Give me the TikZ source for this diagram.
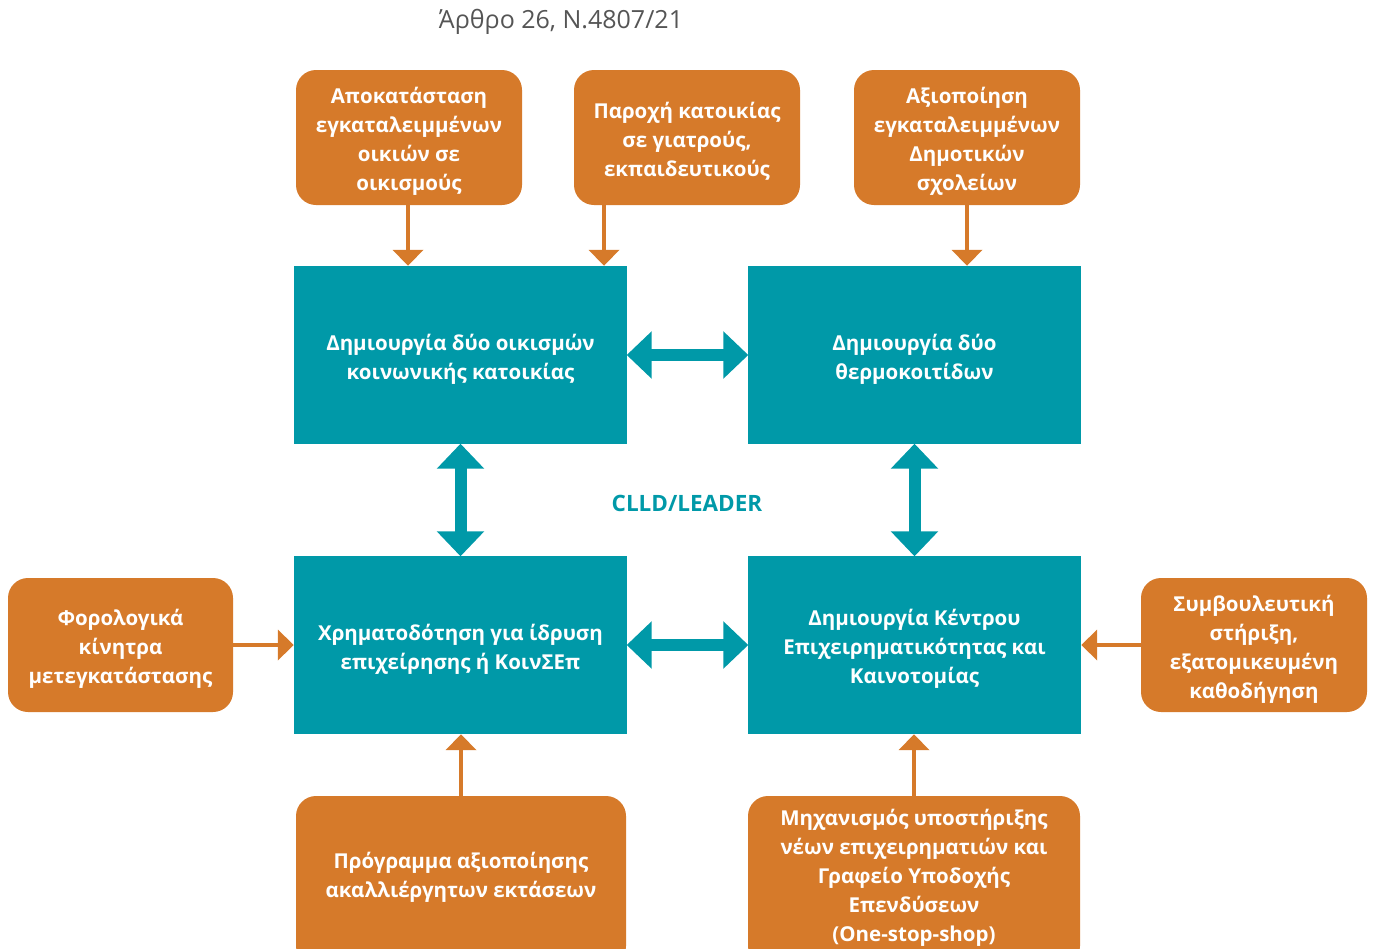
\documentclass[tikz,border=0pt]{standalone}
\usepackage{fontspec}
\setmainfont{Open Sans}
\usetikzlibrary{arrows.meta}
\definecolor{obox}{RGB}{214,122,42}
\definecolor{tbox}{RGB}{0,153,168}
\definecolor{tgray}{RGB}{85,85,85}
\tikzset{
  boxfont/.style={font=\bfseries\fontsize{20.5}{29}\selectfont},
  obx/.style={fill=obox, rounded corners=20pt, text=white, boxfont, align=center, inner sep=0pt},
  tbx/.style={fill=tbox, text=white, boxfont, align=center, inner sep=0pt, minimum width=333pt, minimum height=178pt},
  txt/.style={text=white, boxfont, align=center, inner sep=0pt},
  oarrow/.style={draw=obox, line width=4pt, -{Triangle[width=30pt,length=16pt]}},
  tarrow/.style={draw=tbox, line width=12pt, {Triangle[width=46pt,length=25pt]}-{Triangle[width=46pt,length=25pt]}, shorten <=-0.5pt, shorten >=-0.5pt},
}
\begin{document}
\begin{tikzpicture}[x=1pt,y=-1pt]
\useasboundingbox (0,0) rectangle (1373,948);
\node[text=tgray, font=\fontsize{25}{29}\selectfont] (title) at (561,22) {Άρθρο 26, Ν.4807/21};
% top orange boxes
\node[obx, minimum width=226pt, minimum height=135pt] (o1) at (409,137.5) {};
\node[txt] (o1t) at (409,141.5) {Αποκατάσταση\\εγκαταλειμμένων\\οικιών σε\\οικισμούς};
\node[obx, minimum width=226pt, minimum height=135pt] (o2) at (687,137.5) {};
\node[txt] (o2t) at (687,141.5) {Παροχή κατοικίας\\σε γιατρούς,\\εκπαιδευτικούς};
\node[obx, minimum width=226pt, minimum height=135pt] (o3) at (967,137.5) {};
\node[txt] (o3t) at (967,141.5) {Αξιοποίηση\\εγκαταλειμμένων\\Δημοτικών\\σχολείων};
% teal boxes
\node[tbx] (A) at (460.5,355) {};
\node[txt] (At) at (460.5,359) {Δημιουργία δύο οικισμών\\κοινωνικής κατοικίας};
\node[tbx] (B) at (914.5,355) {};
\node[txt] (Bt) at (914.5,359) {Δημιουργία δύο\\θερμοκοιτίδων};
\node[tbx] (C) at (460.5,645) {};
\node[txt] (Ct) at (460.5,649) {Χρηματοδότηση για ίδρυση\\επιχείρησης ή ΚοινΣΕπ};
\node[tbx] (D) at (914.5,645) {};
\node[txt] (Dt) at (914.5,649) {Δημιουργία Κέντρου\\Επιχειρηματικότητας και\\Καινοτομίας};
% side boxes
\node[obx, minimum width=225pt, minimum height=134pt] (l) at (120.5,645) {};
\node[txt] (lt) at (120.5,649) {Φορολογικά\\κίνητρα\\μετεγκατάστασης};
\node[obx, minimum width=226pt, minimum height=134pt] (r) at (1254,645) {};
\node[txt] (rt) at (1254,649) {Συμβουλευτική\\στήριξη,\\εξατομικευμένη\\καθοδήγηση};
% bottom boxes
\node[obx, minimum width=330pt, minimum height=170pt] (b1) at (461,881) {};
\node[txt] (b1t) at (461,877) {Πρόγραμμα αξιοποίησης\\ακαλλιέργητων εκτάσεων};
\node[obx, minimum width=332pt, minimum height=170pt] (b2) at (914,881) {};
\node[txt] (b2t) at (914,877.5) {Μηχανισμός υποστήριξης\\νέων επιχειρηματιών και\\Γραφείο Υποδοχής\\Επενδύσεων\\(One-stop-shop)};
% center label
\node[text=tbox, font=\bfseries\fontsize{22.5}{26}\selectfont] (lbl) at (687,503) {CLLD/LEADER};
% orange arrows
\draw[oarrow] ([xshift=-1pt]o1.south) -- ([xshift=-1pt]o1.south |- A.north);
\draw[oarrow] ([xshift=-83pt]o2.south) -- ([xshift=-83pt]o2.south |- A.north);
\draw[oarrow] (o3.south) -- (o3.south |- B.north);
\draw[oarrow] (l.east) -- (C.west);
\draw[oarrow] (r.west) -- (D.east);
\draw[oarrow] (b1.north) -- (b1.north |- C.south);
\draw[oarrow] (b2.north) -- (b2.north |- D.south);
% teal double arrows
\draw[tarrow] (A.east) -- (B.west);
\draw[tarrow] (C.east) -- (D.west);
\draw[tarrow] (A.south) -- (C.north);
\draw[tarrow] (B.south) -- (D.north);
\end{tikzpicture}
\end{document}
